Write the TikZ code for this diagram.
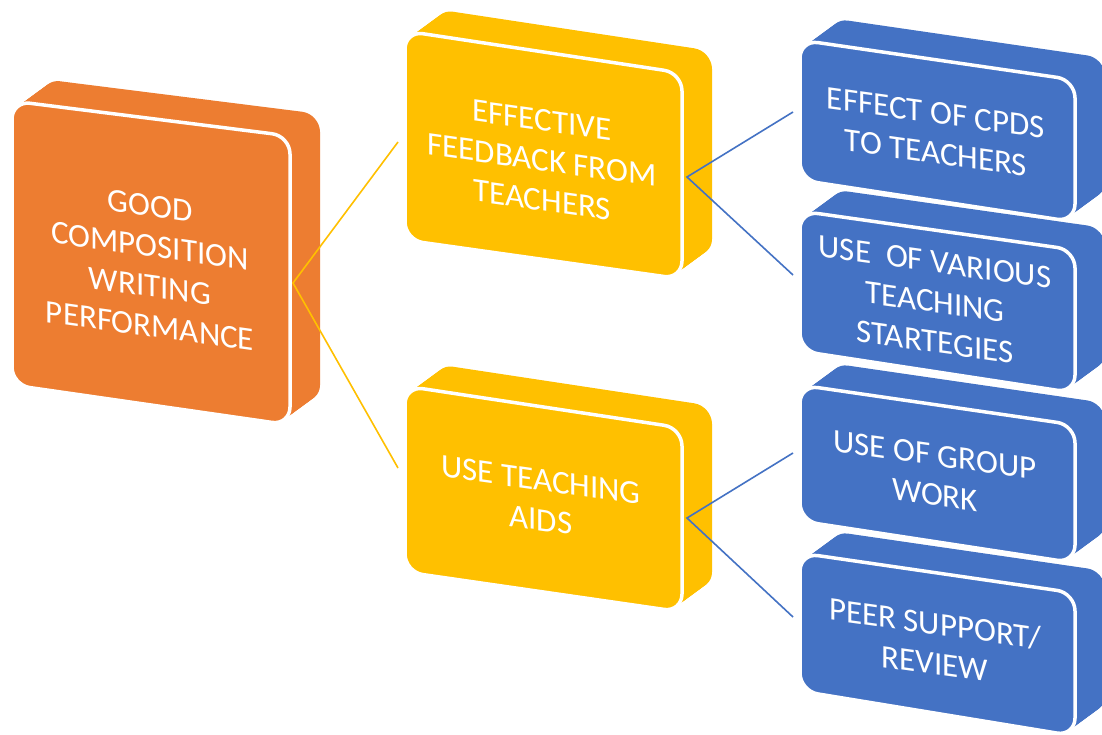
\documentclass[tikz,border=0pt]{standalone}
\usepackage{fontspec}
\setmainfont{Carlito}
\definecolor{cOrange}{HTML}{ED7D31}
\definecolor{cYellow}{HTML}{FFC000}
\definecolor{cBlue}{HTML}{4472C4}
\newcommand{\myslab}[5]{%
  \foreach \t in {0,1,...,20}{%
    \fill[#1, rounded corners=18pt, shift={({1.5*\t},{-1.1*\t})}] (#2) -- (#3) -- (#4) -- (#5) -- cycle;
  }
  \filldraw[fill=#1, draw=white, line width=3.5pt, rounded corners=18pt] (#2) -- (#3) -- (#4) -- (#5) -- cycle;
}
\tikzset{
  lbl/.style={text=white, align=center, font=\fontsize{33pt}{40pt}\selectfont, inner sep=0pt, yslant=-0.14},
  linkY/.style={draw=cYellow, line width=1.6pt},
  linkB/.style={draw=cBlue, line width=1.6pt}
}
\begin{document}
\begin{tikzpicture}[x=1pt,y=-1pt]
\clip (0,0) rectangle (1102,734);
\useasboundingbox (0,0) rectangle (1102,734);
\fill[white] (0,0) rectangle (1102,734);
% boxes
\myslab{cOrange}{12,101}{290,136}{290,425}{12,385}
\myslab{cYellow}{405,31}{682,73}{682,279}{405,240}
\myslab{cYellow}{405,386}{682,428}{682,612}{405,572}
\myslab{cBlue}{800,40}{1075,80}{1075,222}{800,180}
\myslab{cBlue}{800,211}{1075,250}{1075,393}{800,351}
\myslab{cBlue}{800,385}{1075,425}{1075,563}{800,521}
\myslab{cBlue}{800,553}{1075,593}{1075,736}{800,691}
% labels
\node[lbl] (gcw) at (150,266) {GOOD\\COMPOSITION\\WRITING\\PERFORMANCE};
\node[lbl] (eff) at (542,160) {EFFECTIVE\\FEEDBACK FROM\\TEACHERS};
\node[lbl] (aids) at (541,500) {USE TEACHING\\AIDS};
\node[lbl] (cpd) at (936,133) {EFFECT OF CPDS\\TO TEACHERS};
\node[lbl] (var) at (935,302) {USE\ \ OF VARIOUS\\TEACHING\\STARTEGIES};
\node[lbl] (grp) at (935,475) {USE OF GROUP\\WORK};
\node[lbl] (peer) at (935,643) {PEER SUPPORT/\\REVIEW};
% connector anchors
\coordinate (gcwR) at (293,283);
\coordinate (effL) at (398,142);
\coordinate (aidsL) at (398,468);
\coordinate (effR) at (687,177);
\coordinate (aidsR) at (687,518);
\coordinate (cpdL) at (793,112);
\coordinate (varL) at (793,275);
\coordinate (grpL) at (793,453);
\coordinate (peerL) at (793,617);
% connectors
\draw[linkY] (effL) -- (gcwR) -- (aidsL);
\draw[linkB] (cpdL) -- (effR) -- (varL);
\draw[linkB] (grpL) -- (aidsR) -- (peerL);
\end{tikzpicture}
\end{document}
